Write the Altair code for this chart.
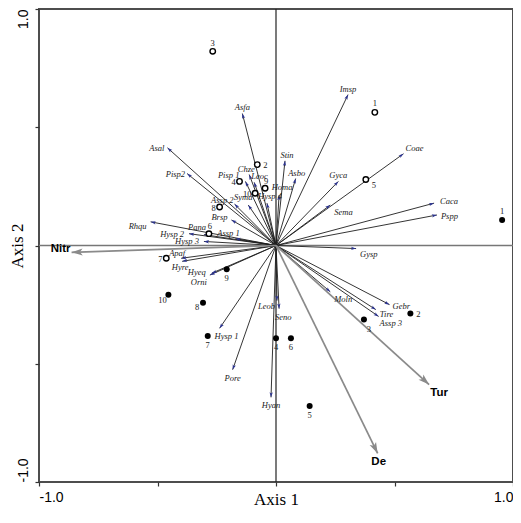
import altair as alt
import numpy as np
import pandas as pd

# ---------------- data (scores) ----------------
species = ["Asfa", "Asal", "Pisp2", "Imsp", "Coae", "Stin", "Asbo", "Gyca", "Sema",
           "Caca", "Pspp", "Gysp", "Moln", "Gebr", "Tire", "Assp 3", "Leob", "Seno",
           "Hyan", "Pore", "Hysp 1", "Orni", "Hyeq", "Hyre", "Apaf", "Hysp 3", "Hysp 2",
           "Pana", "Rhqu", "Assp 1", "Brsp", "Assp 2", "Syma", "Pisp 1", "Chze", "Leoc",
           "Hysp 4", "Homa"]
species_x = [-0.142, -0.458, -0.375, 0.304, 0.538, 0.038, 0.083, 0.263, 0.229,
             0.667, 0.679, 0.338, 0.229, 0.479, 0.421, 0.433, 0.004, 0.013,
             -0.021, -0.183, -0.238, -0.279, -0.271, -0.396, -0.400, -0.304, -0.367,
             -0.304, -0.529, -0.171, -0.188, -0.175, -0.117, -0.129, -0.113, -0.092,
             -0.038, 0.013]
species_y = [0.558, 0.413, 0.304, 0.638, 0.388, 0.358, 0.283, 0.271, 0.171,
             0.179, 0.129, -0.013, -0.196, -0.250, -0.271, -0.300, -0.233, -0.267,
             -0.642, -0.525, -0.350, -0.125, -0.117, -0.067, -0.054, 0.017, 0.050,
             0.046, 0.100, 0.029, 0.108, 0.175, 0.171, 0.271, 0.300, 0.267,
             0.179, 0.213]
# label placement (text alignment and pixel offset from the arrow tip)
species_align = ["center", "right", "right", "center", "left", "center", "center", "center", "left",
                 "left", "left", "left", "left", "left", "left", "left", "right", "left",
                 "center", "center", "left", "right", "right", "center", "center", "right", "right",
                 "center", "right", "center", "right", "right", "center", "right", "center", "left",
                 "center", "center"]
species_dx = [0, -3, -2, 0, 2, 2, 1, 0, 4,
              6, 4, 4, 4, 3, 4, 1, -2, -4,
              0, 0, -5, -3, -6, -2, -4, -5, -5,
              -7, -4, -7, -4, -1, -5, -6, -3, -3,
              3, 3]
species_dy = [-7, 0, 0, -6, -6, -6, -6, -6, 7,
              -2, 1, 5, 7, 1, 4, 7, 5, 8,
              8, 8, 8, 7, -1, 6, -5, 0, 0,
              -8, 4, -6, -3, -4, -8, -6, -6, -6,
              -7, -8]

site_ids = ["1", "2", "3", "4", "5", "6", "7", "8", "9", "10"]
open_x = [0.417, -0.079, -0.267, -0.154, 0.379, -0.283, -0.463, -0.238, -0.046, -0.088]
open_y = [0.563, 0.342, 0.821, 0.271, 0.279, 0.050, -0.054, 0.163, 0.242, 0.221]
open_dx = [0, 8, 0, -6, 8, 1, -6, -6, 1, -8]
open_dy = [-9, 0, -8, 1, 5, -8, 1, 1, -7, 1]

filled_x = [0.954, 0.567, 0.371, 0.000, 0.142, 0.063, -0.288, -0.308, -0.208, -0.454]
filled_y = [0.108, -0.288, -0.313, -0.392, -0.679, -0.392, -0.383, -0.242, -0.100, -0.208]
filled_dx = [0, 8, 5, 0, 0, 0, 0, -6, 0, -6]
filled_dy = [-9, 0, 9, 9, 9, 9, 9, 4, 9, 5]

env_names = ["Nitr", "Tur", "De"]
env_x = [-0.8625, 0.646, 0.429]
env_y = [-0.029, -0.588, -0.879]
env_align = ["right", "center", "center"]
env_dx = [-1, 10, 1]
env_dy = [-3, 8, 9]

# ---------------- layout ----------------
W, H = 474, 473
XPX, YPX = W / 2, H / 2
HEAD = "M0,-1L0.55,0.7L0,0.3L-0.55,0.7Z"


def arrow_frame(names, xs, ys, aligns, dxs, dys, head_r):
    df = pd.DataFrame({"name": names, "x": xs, "y": ys, "align": aligns,
                       "dx": dxs, "dy": dys})
    df["x0"] = 0.0
    df["y0"] = 0.0
    px = df["x"] * XPX
    py = df["y"] * YPX
    length = np.hypot(px, py)
    ux, uy = px / length, py / length
    df["hx"] = df["x"] - head_r * ux / XPX
    df["hy"] = df["y"] - head_r * uy / YPX
    df["angle"] = (np.degrees(np.arctan2(ux, uy)) + 360) % 360
    df["lx"] = df["x"] + df["dx"] / XPX
    df["ly"] = df["y"] - df["dy"] / YPX
    return df


def site_frame(xs, ys, dxs, dys):
    df = pd.DataFrame({"id": site_ids, "x": xs, "y": ys, "dx": dxs, "dy": dys})
    df["lx"] = df["x"] + df["dx"] / XPX
    df["ly"] = df["y"] - df["dy"] / YPX
    return df


sp = arrow_frame(species, species_x, species_y, species_align, species_dx, species_dy, 3)
env = arrow_frame(env_names, env_x, env_y, env_align, env_dx, env_dy, 6.5)
op = site_frame(open_x, open_y, open_dx, open_dy)
fi = site_frame(filled_x, filled_y, filled_dx, filled_dy)

xs = alt.Scale(domain=[-1, 1], nice=False, zero=False)
ys = alt.Scale(domain=[-1, 1], nice=False, zero=False)
ticks = [-1, -0.5, 0, 0.5, 1]
lab_expr = "datum.value == 1 ? '1.0' : (datum.value == -1 ? '-1.0' : '')"

xaxis = alt.Axis(values=ticks, labelExpr=lab_expr, labelFlush=True,
                 labelFont="Liberation Sans", labelFontSize=14, labelColor="black",
                 labelPadding=4, tickSize=4, tickColor="#333", tickWidth=1.2,
                 domain=False, grid=False, title="Axis 1",
                 titleFont="Liberation Serif", titleFontSize=17, titleFontWeight="normal",
                 titleColor="black", titleY=22, titleBaseline="alphabetic")
yaxis = alt.Axis(values=ticks, labelExpr=lab_expr, labelAngle=270,
                 labelAlign={"condition": {"test": "datum.value > 0", "value": "right"},
                             "value": "left"},
                 labelBaseline="bottom",
                 labelFont="Liberation Sans", labelFontSize=14, labelColor="black",
                 labelPadding=5, tickSize=4, tickColor="#333", tickWidth=1.2,
                 domain=False, grid=False, title="Axis 2",
                 titleFont="Liberation Serif", titleFontSize=17, titleFontWeight="normal",
                 titleColor="black", titleAngle=270, titleX=-13, titleBaseline="bottom")


def X(f):
    return alt.X(f, type="quantitative", scale=xs, axis=xaxis)


def Y(f):
    return alt.Y(f, type="quantitative", scale=ys, axis=yaxis)


zero = pd.DataFrame({"z": [0.0]})
vline = alt.Chart(zero).mark_rule(color="#222", strokeWidth=1.2).encode(x=X("z"))
hline = alt.Chart(zero).mark_rule(color="#777", strokeWidth=1.6).encode(y=Y("z"))

sp_lines = alt.Chart(sp).mark_rule(color="#1e1e1e", strokeWidth=0.9).encode(
    x=X("x0"), y=Y("y0"), x2="x", y2="y")
env_lines = alt.Chart(env).mark_rule(color="#8a8a8a", strokeWidth=1.7).encode(
    x=X("x0"), y=Y("y0"), x2="x", y2="y")

sp_heads = alt.Chart(sp).mark_point(shape=HEAD, filled=True, color="#2b3391",
                                    opacity=1, size=36).encode(
    x=X("hx"), y=Y("hy"), angle=alt.Angle("angle:Q", scale=None))
env_heads = alt.Chart(env).mark_point(shape=HEAD, filled=True, color="#8a8a8a",
                                      opacity=1, size=169).encode(
    x=X("hx"), y=Y("hy"), angle=alt.Angle("angle:Q", scale=None))

open_pts = alt.Chart(op).mark_point(shape="circle", fill="white", fillOpacity=1,
                                    stroke="black", strokeWidth=1.4, size=30,
                                    opacity=1).encode(x=X("x"), y=Y("y"))
filled_pts = alt.Chart(fi).mark_point(shape="circle", filled=True, color="black",
                                      opacity=1, size=36).encode(x=X("x"), y=Y("y"))

layers = [vline, hline, sp_lines, env_lines, sp_heads, env_heads, open_pts, filled_pts]

for al in ["left", "center", "right"]:
    layers.append(
        alt.Chart(sp).transform_filter(alt.datum.align == al).mark_text(
            align=al, baseline="middle", font="Liberation Serif", fontStyle="italic",
            fontSize=8.5, color="#1a1a1a").encode(x=X("lx"), y=Y("ly"), text="name:N"))
    layers.append(
        alt.Chart(env).transform_filter(alt.datum.align == al).mark_text(
            align=al, baseline="middle", font="Liberation Sans", fontWeight="bold",
            fontSize=11.5, color="black").encode(x=X("lx"), y=Y("ly"), text="name:N"))

for df in (op, fi):
    layers.append(alt.Chart(df).mark_text(
        align="center", baseline="middle", font="Liberation Serif", fontSize=8.5,
        color="#1a1a1a").encode(x=X("lx"), y=Y("ly"), text="id:N"))

chart = alt.layer(*layers).properties(
    width=W, height=H,
    autosize=alt.AutoSizeParams(type="none"),
    padding={"left": 31, "top": 1, "right": 0, "bottom": 27},
).configure_view(stroke="#4d4d4d", strokeWidth=2)

chart.save("out.html", embed_options={"renderer": "svg", "actions": False})
